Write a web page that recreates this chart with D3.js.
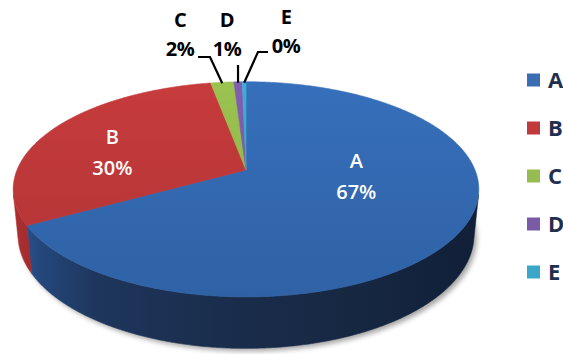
<!DOCTYPE html>
<html>
<head>
<meta charset="utf-8">
<script src="https://cdn.jsdelivr.net/npm/d3@7"></script>
<style>
  html, body { margin: 0; padding: 0; background: #ffffff; }
  svg { display: block; }
</style>
</head>
<body>
<svg id="chart" width="563" height="354"></svg>
<script>
// ---- data ----
const categories = ["A", "B", "C", "D", "E"];
const values = [66.9, 30.2, 1.9, 0.7, 0.3];

// ---- styles ----
const topColors = ["#3369b1", "#bd3839", "#93b94c", "#7a5aa6", "#38a6cb"];
const legendColors = ["#3a6db2", "#c0393b", "#95bb52", "#7b5ba6", "#3aa7c8"];
const wallColors = {
  A: ["#2b5898", "#24477c", "#1e365c", "#1a2d4c", "#162741", "#111f38"],
  B: ["#ae3032", "#9c2a2c", "#8a2527", "#7d2123", "#701e20", "#641b1d"]
};

const svg = d3.select("#chart");

// ---- perspective camera for the 3D pie ----
const cam = { cx: 246, cy: 170, f: 1136, k: 4.96, el: Math.asin(0.4545), h: 0.225 };
const sE = Math.sin(cam.el), cE = Math.cos(cam.el);
function proj(theta, r, y) {
  const X = r * Math.sin(theta), Z = -r * Math.cos(theta);
  const yc = y * cE - Z * sE;
  const depth = -y * sE - Z * cE + cam.k;
  return [cam.cx + cam.f * X / depth, cam.cy - cam.f * yc / depth];
}
function arcPts(a0, a1, r, y) {
  const n = Math.max(2, Math.ceil(Math.abs(a1 - a0) / (Math.PI / 360)));
  return d3.range(n + 1).map(i => proj(a0 + (a1 - a0) * i / n, r, y));
}
const line = d3.line().curve(d3.curveLinear);

const pie = d3.pie().sort(null).startAngle(0).endAngle(2 * Math.PI);
const arcs = pie(values);
const total = d3.sum(values);
const pct = v => Math.round(v / total * 100) + "%";

const defs = svg.append("defs");
const blur = defs.append("filter").attr("id", "blur")
  .attr("x", "-10%").attr("y", "-10%").attr("width", "120%").attr("height", "130%");
blur.append("feGaussianBlur").attr("stdDeviation", 2.5);

const xL = proj(-Math.PI / 2, 1, 0)[0] - 5, xR = proj(Math.PI / 2, 1, 0)[0] + 5;

const topGrad = (id, c) => {
  const g = defs.append("linearGradient").attr("id", id)
    .attr("gradientUnits", "userSpaceOnUse")
    .attr("x1", 0).attr("x2", 0).attr("y1", 80).attr("y2", 300);
  const base = d3.color(c);
  g.append("stop").attr("offset", 0).attr("stop-color", base.brighter(0.15));
  g.append("stop").attr("offset", 1).attr("stop-color", base.darker(0.2));
};
categories.forEach((c, i) => topGrad("top" + i, topColors[i]));

const wallGrad = (id, stops) => {
  const g = defs.append("linearGradient").attr("id", id)
    .attr("gradientUnits", "userSpaceOnUse")
    .attr("x1", xL).attr("x2", xR).attr("y1", 0).attr("y2", 0);
  const offs = [0, 0.06, 0.18, 0.45, 0.75, 1];
  stops.forEach((s, j) => g.append("stop").attr("offset", offs[j]).attr("stop-color", s));
};
categories.forEach((c, i) => {
  let stops = wallColors[c];
  if (!stops) {
    const b = d3.color(topColors[i]);
    stops = [0.3, 0.6, 1.0, 1.3, 1.6, 1.9].map(k => b.darker(k).formatHex());
  }
  wallGrad("wall" + i, stops);
});

// ---- shadow ----
const shadowPts = arcPts(0, 2 * Math.PI, 1.0, -cam.h);
svg.append("path")
  .attr("d", line(shadowPts) + "Z")
  .attr("transform", "translate(3,3)")
  .attr("fill", "rgba(0,0,0,0.35)")
  .attr("filter", "url(#blur)");

// ---- visible outer walls ----
const thMin = Math.acos(-1 / (cam.k * cE));
const thMax = 2 * Math.PI - thMin;
const gWalls = svg.append("g");
arcs.forEach((a, i) => {
  const a0 = Math.max(a.startAngle, thMin), a1 = Math.min(a.endAngle, thMax);
  if (a1 <= a0) return;
  const pts = arcPts(a0, a1, 1, 0).concat(arcPts(a1, a0, 1, -cam.h));
  gWalls.append("path").attr("d", line(pts) + "Z")
    .attr("fill", "url(#wall" + i + ")")
    .attr("stroke", "url(#wall" + i + ")").attr("stroke-width", 0.6);
});

// ---- top faces ----
const gTop = svg.append("g");
arcs.forEach((a, i) => {
  const pts = [proj(0, 0, 0)].concat(arcPts(a.startAngle, a.endAngle, 1, 0));
  gTop.append("path").attr("d", line(pts) + "Z")
    .attr("fill", "url(#top" + i + ")")
    .attr("stroke", "url(#top" + i + ")").attr("stroke-width", 0.6)
    .attr("stroke-linejoin", "round");
});

// ---- inside labels (A, B) ----
const insideLabel = { A: { th: 96 * Math.PI / 180, r: 0.48 }, B: { th: 287 * Math.PI / 180, r: 0.63 } };
const font = "'Open Sans', 'DejaVu Sans', sans-serif";
arcs.forEach((a, i) => {
  const cfg = insideLabel[categories[i]];
  if (!cfg) return;
  const [x, y] = proj(cfg.th, cfg.r, 0);
  const t = svg.append("text").attr("x", x).attr("y", y)
    .attr("text-anchor", "middle").attr("fill", "#ffffff")
    .attr("font-family", font).attr("font-weight", 600).attr("font-size", 20);
  t.append("tspan").attr("x", x).attr("dy", "-0.35em").text(categories[i]);
  t.append("tspan").attr("x", x).attr("dy", "1.55em").text(pct(values[i]));
});

// ---- outside labels (C, D, E) with leader lines ----
const outside = {
  C: { tx: 180, ty: 20, lead: [[198, 57], [210, 57]] },
  D: { tx: 227, ty: 20, lead: [[238, 65]] },
  E: { tx: 286, ty: 17, lead: [[268, 52], [258, 52]] }
};
arcs.forEach((a, i) => {
  const cfg = outside[categories[i]];
  if (!cfg) return;
  const mid = (a.startAngle + a.endAngle) / 2;
  const rim = proj(mid, 1, 0);
  const pts = cfg.lead.concat([[rim[0], rim[1] + 1]]);
  svg.append("path").attr("d", line(pts))
    .attr("fill", "none").attr("stroke", "#000").attr("stroke-width", 2.2);
  const t = svg.append("text").attr("x", cfg.tx).attr("y", cfg.ty)
    .attr("text-anchor", "middle").attr("fill", "#000")
    .attr("font-family", font).attr("font-weight", 700).attr("font-size", 20)
    .attr("letter-spacing", -0.5);
  t.append("tspan").attr("x", cfg.tx).attr("dy", "0.35em").text(categories[i]);
  t.append("tspan").attr("x", cfg.tx).attr("dy", "1.45em").text(pct(values[i]));
});

// ---- legend ----
const ly = d3.scalePoint().domain(categories).range([80, 272]);
const lg = svg.append("g");
categories.forEach((c, i) => {
  const y = ly(c);
  lg.append("rect").attr("x", 527).attr("y", y - 6.5).attr("width", 13).attr("height", 13)
    .attr("fill", legendColors[i]);
  lg.append("text").attr("x", 548).attr("y", y).attr("dy", "0.36em")
    .attr("fill", "#1f2f4f").attr("font-family", font).attr("font-weight", 700)
    .attr("font-size", 22).text(c);
});
</script>
</body>
</html>
